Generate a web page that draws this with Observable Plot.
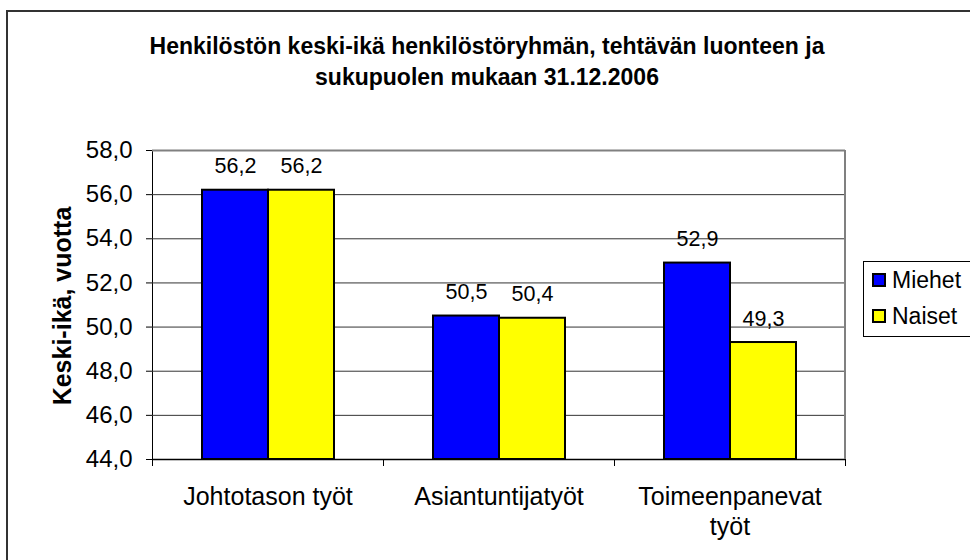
<!DOCTYPE html>
<html><head><meta charset="utf-8">
<script src="https://cdn.jsdelivr.net/npm/d3@7"></script>
<script src="https://cdn.jsdelivr.net/npm/@observablehq/plot@0.6"></script>
<style>
body{margin:0;background:#fff;overflow:hidden;}
#wrap{position:relative;width:970px;height:560px;overflow:hidden;font-family:Arial,"Liberation Sans",sans-serif;background:#fff;}
#chart{position:absolute;left:0;top:0;}
#border{position:absolute;left:6px;top:10px;width:1000px;height:600px;border:2px solid #333;box-sizing:border-box;}
#title{position:absolute;left:0;width:974px;top:31px;text-align:center;font-weight:bold;font-size:23px;line-height:31px;color:#000;}
#ylabel{position:absolute;left:62px;top:306px;transform:translate(-50%,-50%) rotate(-90deg);font-weight:bold;font-size:25px;white-space:nowrap;color:#000;}
#legend{position:absolute;left:863px;top:261px;width:130px;height:76px;border:1px solid #000;box-sizing:border-box;background:#fff;}
.item{position:absolute;left:8px;height:28px;display:flex;align-items:center;font-size:23px;color:#000;}
.sw{width:14px;height:14px;border:2px solid #000;box-sizing:border-box;margin-right:6px;}
</style>
</head><body>
<div id="wrap">
  <div id="border"></div>
  <div id="chart"></div>
  <div id="title">Henkilöstön keski-ikä henkilöstöryhmän, tehtävän luonteen ja<br>sukupuolen mukaan 31.12.2006</div>
  <div id="ylabel">Keski-ikä, vuotta</div>
  <div id="legend"></div>
</div>
<script>
const categories = ["Johtotason työt", "Asiantuntijatyöt", "Toimeenpanevat työt"];
const categoryLabels = ["Johtotason työt", "Asiantuntijatyöt", "Toimeenpanevat\ntyöt"];
const series = ["Miehet", "Naiset"];
const miehet = [56.2, 50.5, 52.9];
const naiset = [56.2, 50.4, 49.3];
const colors = ["#0000FF", "#FFFF00"];
const yTicks = [44, 46, 48, 50, 52, 54, 56, 58];

const rows = [];
categories.forEach((c, i) => {
  rows.push({category: c, series: series[0], value: miehet[i], label: categoryLabels[i]});
  rows.push({category: c, series: series[1], value: naiset[i], label: categoryLabels[i]});
});
const fmt = v => v.toFixed(1).replace(".", ",");
const font = "Arial, 'Liberation Sans', sans-serif";

const chart = Plot.plot({
  width: 970,
  height: 560,
  marginLeft: 152,
  marginRight: 125,
  marginTop: 150,
  marginBottom: 101,
  style: {fontFamily: font, fontSize: "24px", color: "#000", background: "transparent", overflow: "visible"},
  facet: {data: rows, x: "category"},
  fx: {domain: categories, padding: 0, axis: null, label: null},
  x: {domain: series, paddingInner: 0, paddingOuter: 0.75, axis: null},
  y: {domain: [44, 58], ticks: yTicks, tickFormat: fmt, tickSize: 6, tickPadding: 14, line: true, label: null},
  color: {domain: series, range: colors},
  marks: [
    Plot.ruleY(yTicks.slice(1, -1), {stroke: "#333", strokeWidth: 1}),
    Plot.ruleY([58], {stroke: "#808080", strokeWidth: 2}),
    Plot.barY(rows, {x: "series", y1: 44, y2: "value", fill: "series", stroke: "#000", strokeWidth: 2}),
    Plot.ruleY([44], {stroke: "#000", strokeWidth: 1.5}),
    Plot.text(rows, {x: "series", y: "value", text: d => fmt(d.value), dy: -17, lineAnchor: "bottom", fontSize: 21.5, fill: "#000"}),
    Plot.text(rows, {filter: d => d.series === series[0], text: "label", frameAnchor: "bottom", dy: 24, lineAnchor: "top", lineHeight: 1.2, fontSize: 25, fill: "#000"})
  ]
});
document.getElementById("chart").appendChild(chart);

const svgEl = chart.tagName.toLowerCase() === "svg" ? chart : chart.querySelector("svg");
const svg = d3.select(svgEl);
// drop Plot's warning glyph, not part of the chart
svg.selectAll("text").filter(function() { return this.textContent.trim().startsWith("\u26A0"); }).remove();

// right border and category tick marks from the plot's own scales
const fxs = chart.scale("fx");
const ys = chart.scale("y");
const band = d3.scaleBand().domain(fxs.domain).range(fxs.range).padding(0);
const yTop = Math.min(...ys.range), yBot = Math.max(...ys.range);
const g = svg.append("g");
const xEdges = [band.range()[0], ...band.domain().map(d => band(d) + band.bandwidth())];
g.append("line").attr("x1", xEdges[xEdges.length - 1]).attr("x2", xEdges[xEdges.length - 1])
  .attr("y1", yTop).attr("y2", yBot).attr("stroke", "#808080").attr("stroke-width", 2);
xEdges.forEach(x => {
  g.append("line").attr("x1", x + 0.5).attr("x2", x + 0.5).attr("y1", yBot).attr("y2", yBot + 7)
    .attr("stroke", "#000").attr("stroke-width", 1);
});

// legend
const leg = document.getElementById("legend");
series.forEach((s, i) => {
  const it = document.createElement("div");
  it.className = "item";
  it.style.top = (i === 0 ? 4 : 40) + "px";
  it.innerHTML = `<span class="sw" style="background:${colors[i]}"></span><span>${s}</span>`;
  leg.appendChild(it);
});
</script>
</body></html>
